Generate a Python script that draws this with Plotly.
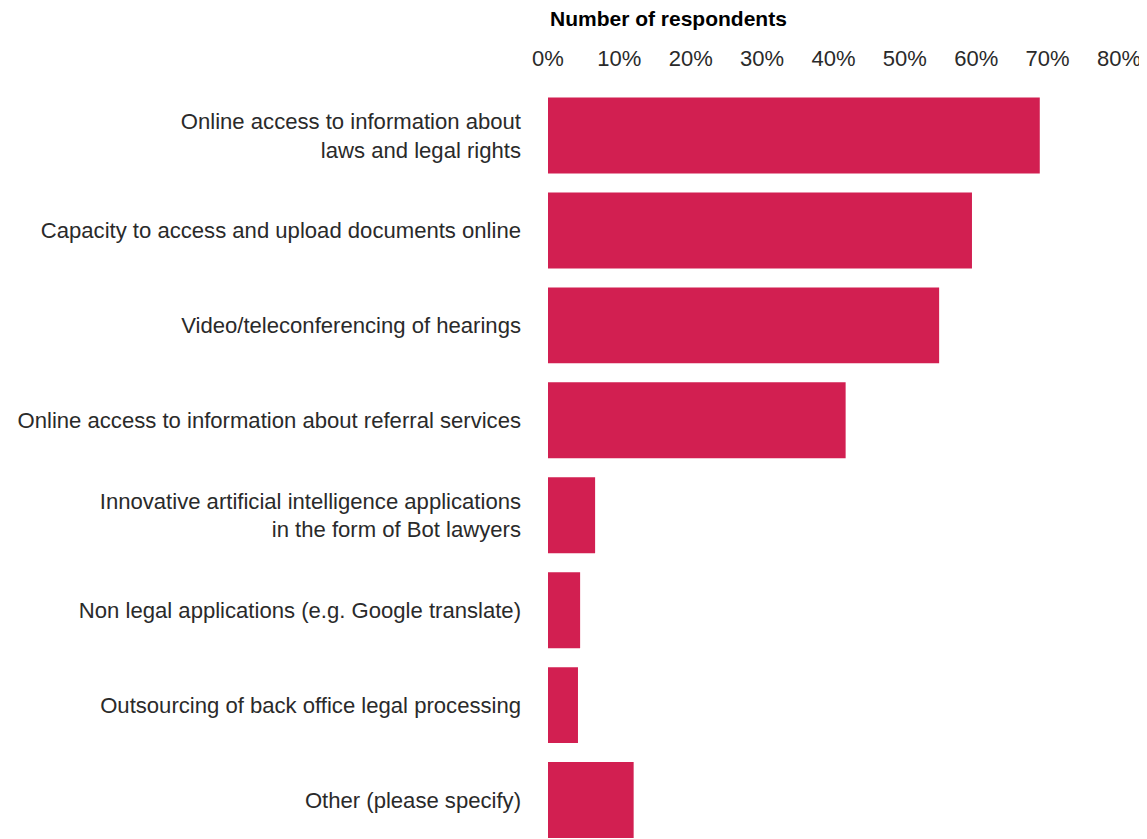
import plotly.graph_objects as go

categories = [
    "Online access to information about<br>laws and legal rights",
    "Capacity to access and upload documents online",
    "Video/teleconferencing of hearings",
    "Online access to information about referral services",
    "Innovative artificial intelligence applications<br>in the form of Bot lawyers",
    "Non legal applications (e.g. Google translate)",
    "Outsourcing of back office legal processing",
    "Other (please specify)",
]
values = [68.9, 59.4, 54.8, 41.7, 6.6, 4.5, 4.2, 12.0]
tick_vals = [0, 10, 20, 30, 40, 50, 60, 70, 80]
tick_text = [f"{v}%" for v in tick_vals]

fig = go.Figure(
    go.Bar(
        x=values,
        y=categories,
        orientation="h",
        marker=dict(color="#D21F51", line=dict(width=0)),
        width=0.8,
    )
)

font_family = "Liberation Sans, Arial, sans-serif"
text_color = "#2a2a2a"

fig.update_layout(
    width=1139,
    height=831,
    margin=dict(l=540, r=28, t=80, b=0),
    paper_bgcolor="white",
    plot_bgcolor="white",
    showlegend=False,
    font=dict(family=font_family, size=22, color=text_color),
    bargap=0.2,
)

fig.update_xaxes(
    side="top",
    range=[0, 80],
    tickvals=tick_vals,
    ticktext=tick_text,
    showgrid=False,
    zeroline=False,
    showline=False,
    ticks="",
    ticklabelstandoff=17,
    tickfont=dict(size=22, color=text_color),
    fixedrange=True,
    automargin=False,
)

fig.update_yaxes(
    categoryorder="array",
    categoryarray=categories,
    range=[7.41, -0.5],
    showgrid=False,
    zeroline=False,
    showline=False,
    ticks="",
    ticklabelstandoff=26,
    tickfont=dict(size=22.1, color=text_color),
    fixedrange=True,
    automargin=False,
)

fig.add_annotation(
    text="<b>Number of respondents</b>",
    xref="paper",
    yref="paper",
    x=0,
    y=1,
    xanchor="left",
    yanchor="bottom",
    yshift=56,
    showarrow=False,
    font=dict(family=font_family, size=21, color="#000000"),
)

fig.write_html("out.html")
